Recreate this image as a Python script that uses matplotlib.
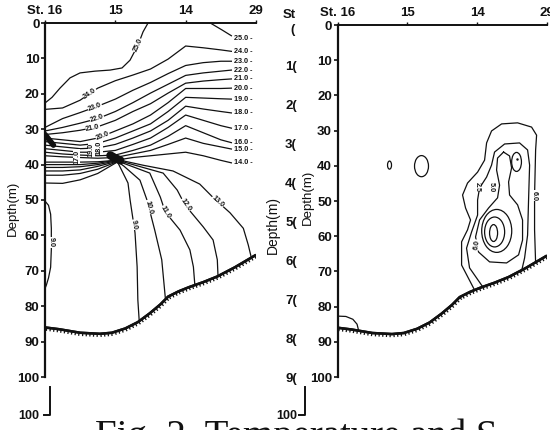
import numpy as np
import matplotlib
matplotlib.use("Agg")
import matplotlib.pyplot as plt
import matplotlib.patheffects as pe
from matplotlib.patches import Ellipse
from matplotlib.lines import Line2D

# ---------------- data ----------------
STATION_LABELS = ["St. 16", "15", "14", "29"]
STATION_POS = [0, 1, 2, 3]
DEPTH_TICKS = [0, 10, 20, 30, 40, 50, 60, 70, 80, 90, 100]

# sea bottom (station position, depth m)
BOTTOM_S = [0, 0.2, 0.5, 0.78, 0.95, 1.14, 1.32, 1.49, 1.64, 1.75, 1.9, 2.05, 2.25, 2.45, 2.7, 3.0]
BOTTOM_D = [86, 86.5, 87.5, 87.8, 87.5, 86.3, 84.5, 82, 79.5, 77.3, 75.8, 74.6, 73.2, 71.6, 69, 65.5]

# upper isotherms: depth at common stations grid
S_GRID = [0, 0.25, 0.5, 0.75, 1.0, 1.25, 1.5, 1.75, 2.0, 2.25, 2.5, 2.65]
T24 = [24.4, 24.0, 21.8, 18.4, 16.3, 14.7, 13.0, 10.2, 6.5, 7.0, 7.6, 8.0]
T23 = [29.5, 27.0, 25.3, 23.5, 21.5, 19.0, 16.8, 14.3, 12.0, 11.2, 10.8, 10.8]
T22 = [30.5, 29.5, 28.3, 27.0, 25.0, 22.5, 19.8, 17.3, 14.8, 14.1, 13.6, 13.3]
T21 = [31.5, 31.0, 30.3, 29.3, 27.5, 25.0, 22.8, 19.8, 17.0, 16.4, 16.0, 15.8]
T20 = [32.5, 33.0, 33.5, 32.5, 30.5, 28.5, 26.0, 22.5, 18.5, 18.5, 18.5, 18.4]
T19 = [33.5, 34.0, 34.5, 34.0, 32.5, 30.5, 28.5, 25.0, 21.0, 21.2, 21.4, 21.5]
T18 = [34.5, 35.0, 35.5, 35.3, 34.3, 32.5, 30.5, 27.5, 23.5, 24.3, 25.0, 25.4]
T17 = [35.5, 36.0, 36.5, 36.5, 36.0, 34.3, 32.5, 29.5, 26.0, 27.5, 29.0, 29.7]
T16 = [36.5, 37.0, 37.3, 37.5, 37.3, 36.0, 34.5, 32.0, 29.0, 31.0, 33.0, 33.8]
T15 = [37.5, 37.8, 38.0, 38.2, 38.0, 37.0, 36.0, 34.3, 32.5, 34.0, 35.0, 35.6]
T14 = [39.3, 39.3, 39.3, 39.2, 38.8, 38.0, 37.5, 37.0, 36.5, 37.5, 38.8, 39.5]
UPPER_TEMPS = ["24.0", "23.0", "22.0", "21.0", "20.0", "19.0", "18.0", "17.0", "16.0", "15.0", "14.0"]

# 25.0 isotherm (two branches reaching the surface)
T25L_S = [1.465, 1.394, 1.323, 1.209, 1.095, 0.925, 0.711, 0.498, 0.356, 0.213, 0.1, 0.0]
T25L_D = [0, 2.5, 6.2, 10.5, 12.7, 13.3, 13.6, 14.1, 15.5, 18.4, 21.0, 22.6]
T25R_S = [2.35, 2.52, 2.65]
T25R_D = [0, 2.0, 3.6]

# lower isotherms: branch towards St.16 (depth on LEFT_S) and branch to bottom
LEFT_S = [0, 0.25, 0.5, 0.75, 1.0]
L13_LEFT = [40.0, 40.0, 40.0, 39.6, 38.8]
L12_LEFT = [40.8, 40.8, 40.6, 40.0, 39.0]
L11_LEFT = [41.8, 41.8, 41.5, 40.5, 39.2]
L10_LEFT = [43.0, 43.0, 42.5, 41.3, 39.4]
L9_LEFT = [45.2, 45.3, 44.3, 42.5, 39.6]

L9_S = [1.04, 1.18, 1.21, 1.28, 1.31, 1.32, 1.34]
L9_D = [39.6, 45.2, 50.0, 59.3, 68.9, 78.2, 84.3]
L10_S = [1.05, 1.12, 1.35, 1.45, 1.56, 1.66, 1.71]
L10_D = [39.4, 40.4, 44.4, 50.0, 58.5, 66.9, 77.5]
L11_S = [1.06, 1.49, 1.64, 1.71, 1.92, 2.06, 2.11, 2.13]
L11_D = [39.2, 42.4, 49.2, 53.4, 58.5, 64.1, 68.9, 73.9]
L12_S = [1.07, 1.68, 1.88, 1.99, 2.25, 2.39, 2.45, 2.46]
L12_D = [39.0, 42.4, 47.2, 51.4, 57.6, 61.3, 66.9, 71.6]
L13_S = [1.08, 1.4, 1.82, 2.2, 2.4, 2.63, 2.82, 2.89, 2.93]
L13_D = [38.8, 40.2, 41.8, 45.5, 49.5, 53.6, 58.0, 62.7, 66.0]
LOWER_TEMPS = ["9.0", "10.0", "11.0", "12.0", "13.0"]
LOWER_LABEL_D = [57.0, 52.0, 53.5, 51.5, 50.5]

# 9.0 bulge near St.16
L9B_S = [0.0, 0.05, 0.08, 0.09, 0.09, 0.08, 0.05, 0.02, 0.0]
L9B_D = [50.3, 51.5, 54.0, 58.0, 64.0, 69.0, 72.0, 74.0, 75.0]

# frontal knots (crowded lines)
KNOT1_S = [0.93, 1.0, 1.07]
KNOT1_D = [37.4, 38.2, 38.8]
KNOT2_S = [0.0, 0.06, 0.12]
KNOT2_D = [31.5, 33.0, 34.5]

# ---- right panel ----
R_OUT_S = [1.963, 1.777, 1.777, 1.862, 1.905, 1.834, 1.791, 1.862, 2.006, 2.106, 2.135, 2.206, 2.35, 2.579, 2.779, 2.851, 2.837, 2.822, 2.822, 2.837]
R_OUT_D = [75.3, 68.2, 61.6, 58.2, 55.4, 52.0, 48.3, 44.9, 41.8, 38.4, 33.5, 30.1, 28.1, 27.8, 29.0, 31.3, 35.5, 48.3, 58.2, 67.6]
R_C2_S = [2.077, 1.891, 1.848, 1.92, 2.006, 2.006, 2.034, 2.135, 2.206, 2.249, 2.393, 2.607, 2.722, 2.751, 2.736, 2.722, 2.679, 2.636]
R_C2_D = [74.3, 69.0, 63.4, 58.8, 54.0, 49.7, 46.3, 43.2, 39.8, 36.1, 33.8, 33.5, 35.5, 39.8, 49.7, 59.7, 66.2, 69.9]
R_C3_S = [2.378, 2.464, 2.493, 2.45, 2.464, 2.579, 2.65, 2.65, 2.593, 2.421, 2.178, 2.02, 1.977, 2.034, 2.163, 2.292, 2.321, 2.278, 2.292, 2.378]
R_C3_D = [36.1, 37.2, 40.6, 44.6, 48.3, 51.1, 55.4, 61.1, 65.3, 67.6, 67.3, 64.5, 60.2, 55.4, 52.0, 49.1, 45.5, 41.2, 37.8, 36.1]
R_BL_S = [0.0, 0.12, 0.22, 0.28, 0.30]
R_BL_D = [82.7, 82.8, 83.6, 85.0, 86.6]
# closed small cells: centre, width (station units), height (m)
R_OV_S = [0.745, 1.203, 2.564, 2.235, 2.25, 2.28]
R_OV_D = [39.8, 40.1, 38.9, 59.1, 58.8, 58.5]
R_OV_W = [0.057, 0.2, 0.14, 0.115, 0.287, 0.43]
R_OV_H = [2.3, 6.0, 5.4, 4.8, 8.5, 12.2]

# ---------------- figure ----------------
W, H = 550, 430
fig = plt.figure(figsize=(W / 100, H / 100), dpi=100)
plt.rcParams["font.family"] = ["Liberation Sans", "DejaVu Sans"]

def fx(px):
    return px / W

def fy(py):
    return 1 - py / H

LW = 0.9
INK = "#111111"
lab_kw = dict(fontsize=5.2, fontweight="bold", color=INK, ha="center", va="center",
              zorder=6, bbox=dict(fc="white", ec="none", pad=0.2))


def setup(ax):
    ax.set_xlim(0, 3)
    ax.set_ylim(100, 0)
    ax.xaxis.tick_top()
    ax.set_xticks(STATION_POS)
    ax.set_xticklabels(STATION_LABELS)
    ax.set_yticks(DEPTH_TICKS)
    ax.set_yticklabels([str(v) for v in DEPTH_TICKS])
    for sp in ["right", "bottom"]:
        ax.spines[sp].set_visible(False)
    ax.spines["left"].set_linewidth(1.6)
    ax.spines["top"].set_linewidth(1.4)
    ax.spines["left"].set_color(INK)
    ax.spines["top"].set_color(INK)
    ax.tick_params(axis="y", direction="out", length=3, width=1.2, pad=1,
                   labelsize=9.5, colors=INK)
    ax.tick_params(axis="x", direction="out", length=2.5, width=1.0, pad=1.5,
                   labelsize=9.5, colors=INK)
    for t in ax.get_xticklabels() + ax.get_yticklabels():
        t.set_fontweight("bold")
    ax.set_ylabel("Depth(m)", fontsize=9.5, color=INK)
    ax.patch.set_alpha(0)
    # sea bottom with hatching
    ax.plot(BOTTOM_S, BOTTOM_D, color=INK, lw=1.8, solid_capstyle="butt", zorder=4,
            path_effects=[pe.withTickedStroke(angle=-90, spacing=2.6, length=0.9, linewidth=0.9),
                          pe.Normal()])


def label_on(ax, xs, ys, key, text, by="s", dk=None):
    xs = np.asarray(xs, float)
    ys = np.asarray(ys, float)
    if by == "s":
        x = key
        y = np.interp(key, xs, ys)
        d = 0.06 if dk is None else dk
        p1 = ax.transData.transform((key - d, np.interp(key - d, xs, ys)))
        p2 = ax.transData.transform((key + d, np.interp(key + d, xs, ys)))
    else:
        y = key
        x = np.interp(key, ys, xs)
        d = 1.5 if dk is None else dk
        p1 = ax.transData.transform((np.interp(key - d, ys, xs), key - d))
        p2 = ax.transData.transform((np.interp(key + d, ys, xs), key + d))
    ang = np.degrees(np.arctan2(p2[1] - p1[1], p2[0] - p1[0]))
    if ang > 90:
        ang -= 180
    if ang < -90:
        ang += 180
    ax.text(x, y, text, rotation=ang, rotation_mode="anchor", **lab_kw)


# ---------- left panel (temperature) ----------
axL = fig.add_axes([fx(45), fy(377), fx(256) - fx(45), fy(23) - fy(377)])
setup(axL)
axL.yaxis.set_label_coords(-0.125, 0.475)

line_kw = dict(color=INK, lw=LW, zorder=3)
upper = [T24, T23, T22, T21, T20, T19, T18, T17, T16, T15, T14]
for arr in upper:
    axL.plot(S_GRID, arr, **line_kw)
axL.plot(T25L_S, T25L_D, **line_kw)
axL.plot(T25R_S, T25R_D, **line_kw)

lefts = [L9_LEFT, L10_LEFT, L11_LEFT, L12_LEFT, L13_LEFT]
lowers = [(L9_S, L9_D), (L10_S, L10_D), (L11_S, L11_D), (L12_S, L12_D), (L13_S, L13_D)]
for la, (ls, ld) in zip(lefts, lowers):
    axL.plot(LEFT_S, la, **line_kw)
    axL.plot(ls, ld, **line_kw)
axL.plot(L9B_S, L9B_D, **line_kw)
axL.plot(KNOT1_S, KNOT1_D, color=INK, lw=6, solid_capstyle="round", zorder=4)
axL.plot(KNOT2_S, KNOT2_D, color=INK, lw=4, solid_capstyle="round", zorder=4)

# right-edge labels
edge_kw = dict(fontsize=5.2, fontweight="bold", color=INK, ha="left", va="center", zorder=6)
axL.text(2.69, T25R_D[-1] + 0.8, "25.0 -", **edge_kw)
for arr, t in zip(upper, UPPER_TEMPS):
    axL.text(2.69, arr[-1], t + " -", **edge_kw)

# inner labels
label_on(axL, T25L_S[::-1], T25L_D[::-1], 1.32, "25.0", dk=0.04)
label_on(axL, S_GRID, T24, 0.64, "24.0")
label_on(axL, S_GRID, T23, 0.71, "23.0")
label_on(axL, S_GRID, T22, 0.74, "22.0")
label_on(axL, S_GRID, T21, 0.68, "21.0")
label_on(axL, S_GRID, T20, 0.82, "20.0")
for (ls, ld), t, dd in zip(lowers, LOWER_TEMPS, LOWER_LABEL_D):
    label_on(axL, ls, ld, dd, t, by="d")
label_on(axL, L9B_S[:5], L9B_D[:5], 62.0, "9.0", by="d")
# crowded vertical labels in the front
axL.text(0.66, 35.8, "19.0", rotation=90, **lab_kw)
axL.text(0.77, 35.2, "18.0", rotation=90, **lab_kw)
axL.text(0.45, 37.8, "17.0", rotation=90, **lab_kw)

# ---------- right panel ----------
axR = fig.add_axes([fx(337.5), fy(377), fx(547) - fx(337.5), fy(25) - fy(377)])
setup(axR)
axR.yaxis.set_label_coords(-0.115, 0.51)
axR.plot(R_OUT_S, R_OUT_D, **line_kw)
axR.plot(R_C2_S, R_C2_D, **line_kw)
axR.plot(R_C3_S, R_C3_D, **line_kw)
axR.plot(R_BL_S, R_BL_D, **line_kw)
for s, d, w, h in zip(R_OV_S, R_OV_D, R_OV_W, R_OV_H):
    axR.add_patch(Ellipse((s, d), w, h, fill=False, ec=INK, lw=LW, zorder=3))
axR.plot([R_OV_S[2]], [R_OV_D[2] - 0.8], marker=".", ms=1.5, color=INK)
label_on(axR, R_OUT_S[5:9], R_OUT_D[5:9], 46.0, "2.5", by="d", dk=1.0)
label_on(axR, R_C2_S[4:9], R_C2_D[4:9], 46.0, "5.0", by="d", dk=1.0)
axR.text(R_OUT_S[17], 48.5, "6.0", rotation=-90, **lab_kw)
axR.text(2.0, 62.5, "6.0", rotation=80, **lab_kw)

# ---------- overlapping page remnants ----------
ghost_kw = dict(fontsize=9.5, fontweight="bold", color=INK, ha="center", va="center")
fig.text(fx(289), fy(15), "St", **ghost_kw)
fig.text(fx(293), fy(30), "(", **ghost_kw)
for k in range(1, 10):
    fig.text(fx(291), fy(67 + 39 * (k - 1)), f"{k}(", **ghost_kw)
fig.text(fx(273), fy(225), "Depth(m)", rotation=90, fontsize=10, color=INK,
         ha="center", va="center")
for lx, tx in [(50, 29), (305, 287)]:
    fig.add_artist(Line2D([fx(lx), fx(lx), fx(lx - 6)], [fy(387), fy(415), fy(415)],
                          color=INK, lw=1.4, transform=fig.transFigure))
    fig.text(fx(tx), fy(416), "100", fontsize=9, fontweight="bold", color=INK,
             ha="center", va="center")

fig.text(fx(95), fy(447), "Fig. 2. Temperature and S", fontsize=28,
         family=["Liberation Serif", "DejaVu Serif"], color=INK, ha="left", va="baseline")

fig.savefig("out.png", dpi=100)
